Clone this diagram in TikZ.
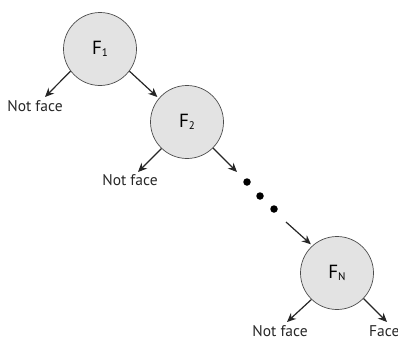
\documentclass[tikz,border=0pt]{standalone}
\usepackage{fontspec}
\setmainfont{PT Sans}
\usetikzlibrary{arrows.meta}
\newcommand{\lowsub}[1]{\raisebox{-2.5pt}{\fontsize{11}{11}\selectfont #1}}
\begin{document}
\begin{tikzpicture}[x=1pt,y=-1pt,
  stage/.style={circle, draw=black!70, fill=black!11, line width=0.7pt, minimum size=73pt, inner sep=0pt, font=\fontsize{19}{20}\selectfont},
  lbl/.style={font=\fontsize{15.5}{17}\selectfont, inner sep=0pt, text=black!85},
  arr/.style={-{Stealth[length=9pt,width=8pt]}, line width=1.2pt, draw=black!85},
  bigdot/.style={circle, fill=black, inner sep=0pt, minimum size=7.5pt}]
\useasboundingbox (0,0) rectangle (398,340);
\node[stage] (f1) at (100,49) {F\lowsub{1}};
\node[stage] (f2) at (187,122) {F\lowsub{2}};
\node[stage] (fn) at (337,273) {F\lowsub{N}};
% labels
\node[lbl] (nf1) at (35,106) {Not face};
\node[lbl] (nf2) at (130,180) {Not face};
\node[lbl] (nfn) at (280,331) {Not face};
\node[lbl, anchor=west] (face) at (369,331) {Face};
% arrow end points
\coordinate (e1) at (45,97);
\coordinate (e2) at (138,172);
\coordinate (e3) at (237,172);
\coordinate (s4) at (286,222);
\coordinate (e5) at (287,322);
\coordinate (e6) at (387,322);
% dots
\node[bigdot] (d1) at (247,182) {};
\node[bigdot] (d2) at (260,196) {};
\node[bigdot] (d3) at (274,209) {};
% arrows
\draw[arr] (f1.217) -- (e1);
\draw[arr, shorten >=2pt] (f1.-37) -- (f2.140);
\draw[arr] (f2.226) -- (e2);
\draw[arr] (f2.-45) -- (e3);
\draw[arr, shorten >=2pt] (s4) -- (fn.132);
\draw[arr] (fn.226) -- (e5);
\draw[arr] (fn.-44) -- (e6);
\end{tikzpicture}
\end{document}
